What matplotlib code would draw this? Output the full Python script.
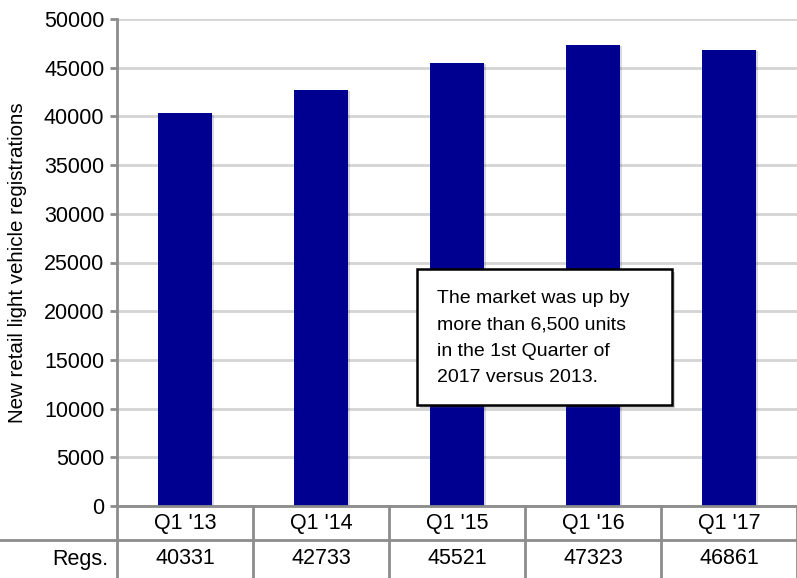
import matplotlib
matplotlib.use("Agg")
import matplotlib.pyplot as plt
from matplotlib.patches import Rectangle
import matplotlib.patheffects as pe

quarters = ["Q1 '13", "Q1 '14", "Q1 '15", "Q1 '16", "Q1 '17"]
regs = [40331, 42733, 45521, 47323, 46861]
yticks = list(range(0, 50001, 5000))
note = ("The market was up by\nmore than 6,500 units\n"
        "in the 1st Quarter of\n2017 versus 2013.")

plt.rcParams["font.family"] = ["Liberation Sans Narrow", "Liberation Sans", "DejaVu Sans"]
FS = 15.5

W, H = 797, 578
fig = plt.figure(figsize=(W / 100, H / 100), dpi=100)
L, R, T, B = 117, 797, 19, 506
ax = fig.add_axes([L / W, (H - B) / H, (R - L) / W, (B - T) / H])

BAR = "#000090"
GRID = "#d4d4d4"
LINE = "#8c8c8c"
x = list(range(len(quarters)))
ax.bar(x, regs, width=0.39, color=BAR, zorder=3,
       path_effects=[pe.SimplePatchShadow(offset=(2, -1), alpha=0.15), pe.Normal()])
ax.set_xlim(-0.5, len(quarters) - 0.5)
ax.set_ylim(0, 50000)
ax.set_yticks(yticks)
ax.set_yticklabels([str(v) for v in yticks], fontsize=FS)
ax.yaxis.grid(True, color=GRID, lw=2, zorder=0)
ax.set_xticks([])
for s in ["top", "right", "bottom"]:
    ax.spines[s].set_visible(False)
ax.spines["left"].set_color(LINE)
ax.spines["left"].set_linewidth(2)
ax.tick_params(axis="y", length=5, width=2, color=LINE, pad=4)
ax.set_ylabel("New retail light vehicle registrations", fontsize=14.8, labelpad=12)

# data table under the axis
h1 = -(540 - B) / (B - T)
h2 = -(H - B) / (B - T)
tr = ax.get_xaxis_transform()
ax.plot([-0.5, 4.5], [0, 0], transform=tr, color=LINE, lw=2, clip_on=False, zorder=4)
ax.plot([-0.5 - L / (R - L) * 5, 4.5], [h1, h1], transform=tr, color=LINE, lw=2, clip_on=False)
for b in [i - 0.5 for i in range(len(quarters) + 1)]:
    ax.plot([b, b], [0, h2], transform=tr, color=LINE, lw=2, clip_on=False)
for i, (q, v) in enumerate(zip(quarters, regs)):
    ax.text(i, h1 / 2, q, transform=tr, ha="center", va="center", fontsize=FS)
    ax.text(i, (h1 + h2) / 2, str(v), transform=tr, ha="center", va="center", fontsize=FS)
fig.text(108 / W, 1 - 559 / H, "Regs.", ha="right", va="center", fontsize=FS)

# annotation box
box = Rectangle((417 / W, 1 - 405 / H), (672 - 417) / W, (405 - 269) / H,
                transform=fig.transFigure, facecolor="white", edgecolor="black", lw=1.8,
                zorder=5, path_effects=[pe.SimplePatchShadow(offset=(2, -2), alpha=0.25), pe.Normal()])
fig.patches.append(box)
fig.text(437 / W, 1 - 338 / H, note, ha="left", va="center", fontsize=14,
         linespacing=1.7, zorder=6)

fig.savefig("out.png", dpi=100)
